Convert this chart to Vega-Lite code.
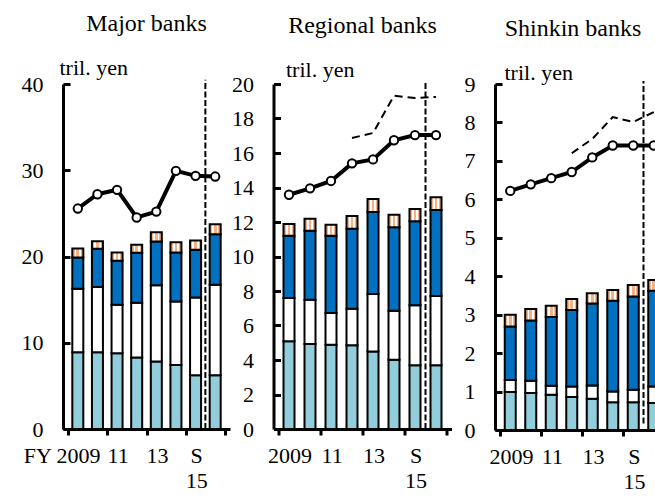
{
  "$schema": "https://vega.github.io/schema/vega-lite/v6.json",
  "padding": {"left": 21, "top": 12, "right": 0, "bottom": 0},
  "background": "white",
  "datasets": {
    "bars": [
      {"p": "M", "i": 0, "c": "a", "k": 1, "v": 8.9}, {"p": "M", "i": 0, "c": "b", "k": 2, "v": 7.36}, {"p": "M", "i": 0, "c": "c", "k": 3, "v": 3.63}, {"p": "M", "i": 0, "c": "d", "k": 4, "v": 1.04},
      {"p": "M", "i": 1, "c": "a", "k": 1, "v": 8.9}, {"p": "M", "i": 1, "c": "b", "k": 2, "v": 7.55}, {"p": "M", "i": 1, "c": "c", "k": 3, "v": 4.45}, {"p": "M", "i": 1, "c": "d", "k": 4, "v": 0.88},
      {"p": "M", "i": 2, "c": "a", "k": 1, "v": 8.77}, {"p": "M", "i": 2, "c": "b", "k": 2, "v": 5.63}, {"p": "M", "i": 2, "c": "c", "k": 3, "v": 5.1}, {"p": "M", "i": 2, "c": "d", "k": 4, "v": 0.97},
      {"p": "M", "i": 3, "c": "a", "k": 1, "v": 8.3}, {"p": "M", "i": 3, "c": "b", "k": 2, "v": 6.34}, {"p": "M", "i": 3, "c": "c", "k": 3, "v": 5.79}, {"p": "M", "i": 3, "c": "d", "k": 4, "v": 0.93},
      {"p": "M", "i": 4, "c": "a", "k": 1, "v": 7.84}, {"p": "M", "i": 4, "c": "b", "k": 2, "v": 8.84}, {"p": "M", "i": 4, "c": "c", "k": 3, "v": 5.06}, {"p": "M", "i": 4, "c": "d", "k": 4, "v": 1.06},
      {"p": "M", "i": 5, "c": "a", "k": 1, "v": 7.42}, {"p": "M", "i": 5, "c": "b", "k": 2, "v": 7.37}, {"p": "M", "i": 5, "c": "c", "k": 3, "v": 5.68}, {"p": "M", "i": 5, "c": "d", "k": 4, "v": 1.19},
      {"p": "M", "i": 6, "c": "a", "k": 1, "v": 6.22}, {"p": "M", "i": 6, "c": "b", "k": 2, "v": 9.03}, {"p": "M", "i": 6, "c": "c", "k": 3, "v": 5.53}, {"p": "M", "i": 6, "c": "d", "k": 4, "v": 1.08},
      {"p": "M", "i": 7, "c": "a", "k": 1, "v": 6.22}, {"p": "M", "i": 7, "c": "b", "k": 2, "v": 10.5}, {"p": "M", "i": 7, "c": "c", "k": 3, "v": 5.86}, {"p": "M", "i": 7, "c": "d", "k": 4, "v": 1.16},
      {"p": "R", "i": 0, "c": "a", "k": 1, "v": 5.08}, {"p": "R", "i": 0, "c": "b", "k": 2, "v": 2.51}, {"p": "R", "i": 0, "c": "c", "k": 3, "v": 3.61}, {"p": "R", "i": 0, "c": "d", "k": 4, "v": 0.68},
      {"p": "R", "i": 1, "c": "a", "k": 1, "v": 4.93}, {"p": "R", "i": 1, "c": "b", "k": 2, "v": 2.57}, {"p": "R", "i": 1, "c": "c", "k": 3, "v": 4.0}, {"p": "R", "i": 1, "c": "d", "k": 4, "v": 0.69},
      {"p": "R", "i": 2, "c": "a", "k": 1, "v": 4.89}, {"p": "R", "i": 2, "c": "b", "k": 2, "v": 1.83}, {"p": "R", "i": 2, "c": "c", "k": 3, "v": 4.48}, {"p": "R", "i": 2, "c": "d", "k": 4, "v": 0.64},
      {"p": "R", "i": 3, "c": "a", "k": 1, "v": 4.85}, {"p": "R", "i": 3, "c": "b", "k": 2, "v": 2.12}, {"p": "R", "i": 3, "c": "c", "k": 3, "v": 4.64}, {"p": "R", "i": 3, "c": "d", "k": 4, "v": 0.74},
      {"p": "R", "i": 4, "c": "a", "k": 1, "v": 4.5}, {"p": "R", "i": 4, "c": "b", "k": 2, "v": 3.33}, {"p": "R", "i": 4, "c": "c", "k": 3, "v": 4.75}, {"p": "R", "i": 4, "c": "d", "k": 4, "v": 0.75},
      {"p": "R", "i": 5, "c": "a", "k": 1, "v": 4.02}, {"p": "R", "i": 5, "c": "b", "k": 2, "v": 2.84}, {"p": "R", "i": 5, "c": "c", "k": 3, "v": 4.83}, {"p": "R", "i": 5, "c": "d", "k": 4, "v": 0.73},
      {"p": "R", "i": 6, "c": "a", "k": 1, "v": 3.69}, {"p": "R", "i": 6, "c": "b", "k": 2, "v": 3.48}, {"p": "R", "i": 6, "c": "c", "k": 3, "v": 4.87}, {"p": "R", "i": 6, "c": "d", "k": 4, "v": 0.71},
      {"p": "R", "i": 7, "c": "a", "k": 1, "v": 3.69}, {"p": "R", "i": 7, "c": "b", "k": 2, "v": 4.02}, {"p": "R", "i": 7, "c": "c", "k": 3, "v": 4.99}, {"p": "R", "i": 7, "c": "d", "k": 4, "v": 0.73},
      {"p": "S", "i": 0, "c": "a", "k": 1, "v": 0.99}, {"p": "S", "i": 0, "c": "b", "k": 2, "v": 0.31}, {"p": "S", "i": 0, "c": "c", "k": 3, "v": 1.39}, {"p": "S", "i": 0, "c": "d", "k": 4, "v": 0.31},
      {"p": "S", "i": 1, "c": "a", "k": 1, "v": 0.96}, {"p": "S", "i": 1, "c": "b", "k": 2, "v": 0.32}, {"p": "S", "i": 1, "c": "c", "k": 3, "v": 1.57}, {"p": "S", "i": 1, "c": "d", "k": 4, "v": 0.3},
      {"p": "S", "i": 2, "c": "a", "k": 1, "v": 0.92}, {"p": "S", "i": 2, "c": "b", "k": 2, "v": 0.23}, {"p": "S", "i": 2, "c": "c", "k": 3, "v": 1.79}, {"p": "S", "i": 2, "c": "d", "k": 4, "v": 0.29},
      {"p": "S", "i": 3, "c": "a", "k": 1, "v": 0.86}, {"p": "S", "i": 3, "c": "b", "k": 2, "v": 0.27}, {"p": "S", "i": 3, "c": "c", "k": 3, "v": 1.99}, {"p": "S", "i": 3, "c": "d", "k": 4, "v": 0.29},
      {"p": "S", "i": 4, "c": "a", "k": 1, "v": 0.81}, {"p": "S", "i": 4, "c": "b", "k": 2, "v": 0.35}, {"p": "S", "i": 4, "c": "c", "k": 3, "v": 2.13}, {"p": "S", "i": 4, "c": "d", "k": 4, "v": 0.27},
      {"p": "S", "i": 5, "c": "a", "k": 1, "v": 0.72}, {"p": "S", "i": 5, "c": "b", "k": 2, "v": 0.28}, {"p": "S", "i": 5, "c": "c", "k": 3, "v": 2.36}, {"p": "S", "i": 5, "c": "d", "k": 4, "v": 0.28},
      {"p": "S", "i": 6, "c": "a", "k": 1, "v": 0.72}, {"p": "S", "i": 6, "c": "b", "k": 2, "v": 0.33}, {"p": "S", "i": 6, "c": "c", "k": 3, "v": 2.42}, {"p": "S", "i": 6, "c": "d", "k": 4, "v": 0.3},
      {"p": "S", "i": 7, "c": "a", "k": 1, "v": 0.7}, {"p": "S", "i": 7, "c": "b", "k": 2, "v": 0.43}, {"p": "S", "i": 7, "c": "c", "k": 3, "v": 2.49}, {"p": "S", "i": 7, "c": "d", "k": 4, "v": 0.28}
    ],
    "lines": [
      {"p": "M", "s": "solid", "i": 0, "v": 25.56}, {"p": "M", "s": "solid", "i": 1, "v": 27.22}, {"p": "M", "s": "solid", "i": 2, "v": 27.73}, {"p": "M", "s": "solid", "i": 3, "v": 24.52},
      {"p": "M", "s": "solid", "i": 4, "v": 25.21}, {"p": "M", "s": "solid", "i": 5, "v": 29.93}, {"p": "M", "s": "solid", "i": 6, "v": 29.35}, {"p": "M", "s": "solid", "i": 7, "v": 29.27},
      {"p": "R", "s": "solid", "i": 0, "v": 13.58}, {"p": "R", "s": "solid", "i": 1, "v": 13.95}, {"p": "R", "s": "solid", "i": 2, "v": 14.38}, {"p": "R", "s": "solid", "i": 3, "v": 15.4},
      {"p": "R", "s": "solid", "i": 4, "v": 15.63}, {"p": "R", "s": "solid", "i": 5, "v": 16.74}, {"p": "R", "s": "solid", "i": 6, "v": 17.04}, {"p": "R", "s": "solid", "i": 7, "v": 17.04},
      {"p": "R", "s": "dashed", "i": 3, "v": 16.87}, {"p": "R", "s": "dashed", "i": 4, "v": 17.16}, {"p": "R", "s": "dashed", "i": 5, "v": 19.32}, {"p": "R", "s": "dashed", "i": 6, "v": 19.19}, {"p": "R", "s": "dashed", "i": 7, "v": 19.25},
      {"p": "S", "s": "solid", "i": 0, "v": 6.22}, {"p": "S", "s": "solid", "i": 1, "v": 6.39}, {"p": "S", "s": "solid", "i": 2, "v": 6.55}, {"p": "S", "s": "solid", "i": 3, "v": 6.71},
      {"p": "S", "s": "solid", "i": 4, "v": 7.09}, {"p": "S", "s": "solid", "i": 5, "v": 7.4}, {"p": "S", "s": "solid", "i": 6, "v": 7.4}, {"p": "S", "s": "solid", "i": 7, "v": 7.4},
      {"p": "S", "s": "dashed", "i": 3, "v": 7.2}, {"p": "S", "s": "dashed", "i": 4, "v": 7.57}, {"p": "S", "s": "dashed", "i": 5, "v": 8.14}, {"p": "S", "s": "dashed", "i": 6, "v": 8.01}, {"p": "S", "s": "dashed", "i": 7, "v": 8.27}
    ],
    "dividers": [
      {"p": "M", "x": 6.5, "y0": 0, "y1": 40.5},
      {"p": "R", "x": 6.5, "y0": 0, "y1": 20.17},
      {"p": "S", "x": 6.5, "y0": 0.17, "y1": 9.08}
    ]
  },
  "bounds": "flush",
  "spacing": 43.5,
  "hconcat": [
    {
      "width": 167,
      "height": 345,
      "title": {"text": "Major banks"},
      "layer": [
        {
          "data": {"name": "bars"},
          "transform": [{"filter": "datum.p === 'M'"}],
          "mark": {"type": "bar", "size": 11, "stroke": "black", "strokeWidth": 2},
          "encoding": {
            "x": {"field": "i", "type": "quantitative", "scale": {"domain": [-0.5, 7.5], "nice": false, "zero": false},
              "axis": {"values": [-0.5, 1.5, 3.5, 5.5, 7.5], "title": null, "labelOverlap": false,
                "labelExpr": "datum.value == -0.5 ? 'FY 2009' : datum.value == 1.5 ? '11' : datum.value == 3.5 ? '13' : datum.value == 5.5 ? ['S', '15'] : ''",
                "labelOffset": {"condition": {"test": "datum.value == -0.5", "value": -6.3}, "value": 10.44}}},
            "y": {"field": "v", "type": "quantitative", "stack": "zero", "scale": {"domain": [0, 40], "nice": false},
              "axis": {"values": [0, 10, 20, 30, 40], "labelOverlap": false, "title": "tril. yen", "titleX": -4, "titleY": -10}},
            "order": {"field": "k", "type": "quantitative"},
            "fill": {"field": "c", "type": "nominal", "legend": null,
              "scale": {"domain": ["a", "b", "c", "d"], "range": ["#92CDDC", "#FFFFFF", "#0070C0", "#F4B183"]},
              "condition": {"test": "datum.c === 'd'", "value": {"gradient": "linear", "x1": 0, "y1": 0, "x2": 1, "y2": 0,
                "stops": [{"offset": 0, "color": "#F4B183"}, {"offset": 0.22, "color": "#F4B183"}, {"offset": 0.22, "color": "#FFFFFF"}, {"offset": 0.38, "color": "#FFFFFF"}, {"offset": 0.38, "color": "#F4B183"}, {"offset": 0.62, "color": "#F4B183"}, {"offset": 0.62, "color": "#FFFFFF"}, {"offset": 0.78, "color": "#FFFFFF"}, {"offset": 0.78, "color": "#F4B183"}, {"offset": 1, "color": "#F4B183"}]}}}
          }
        },
        {
          "data": {"name": "dividers"},
          "transform": [{"filter": "datum.p === 'M'"}],
          "mark": {"type": "rule", "color": "black", "strokeWidth": 2, "strokeDash": [6, 2.5]},
          "encoding": {"x": {"field": "x", "type": "quantitative"}, "y": {"field": "y0", "type": "quantitative", "axis": {"values": [0, 10, 20, 30, 40], "labelOverlap": false, "title": "tril. yen", "titleX": -4, "titleY": -10}}, "y2": {"field": "y1"}}
        },
        {
          "data": {"name": "lines"},
          "transform": [{"filter": "datum.p === 'M' && datum.s === 'solid'"}],
          "mark": {"type": "line", "color": "black", "strokeWidth": 4},
          "encoding": {"x": {"field": "i", "type": "quantitative"}, "y": {"field": "v", "type": "quantitative", "axis": {"values": [0, 10, 20, 30, 40], "labelOverlap": false, "title": "tril. yen", "titleX": -4, "titleY": -10}}}
        },
        {
          "data": {"name": "lines"},
          "transform": [{"filter": "datum.p === 'M' && datum.s === 'solid'"}],
          "mark": {"type": "point", "shape": "circle", "filled": true, "fill": "white", "stroke": "black", "strokeWidth": 2, "size": 70, "opacity": 1},
          "encoding": {"x": {"field": "i", "type": "quantitative"}, "y": {"field": "v", "type": "quantitative", "axis": {"values": [0, 10, 20, 30, 40], "labelOverlap": false, "title": "tril. yen", "titleX": -4, "titleY": -10}}}
        }
      ]
    },
    {
      "width": 178,
      "height": 345,
      "title": {"text": "Regional banks"},
      "layer": [
        {
          "data": {"name": "bars"},
          "transform": [{"filter": "datum.p === 'R'"}],
          "mark": {"type": "bar", "size": 11, "stroke": "black", "strokeWidth": 2},
          "encoding": {
            "x": {"field": "i", "type": "quantitative", "scale": {"domain": [-0.5, 7.5], "nice": false, "zero": false},
              "axis": {"values": [-0.5, 1.5, 3.5, 5.5, 7.5], "title": null, "labelOverlap": false,
                "labelExpr": "datum.value == -0.5 ? '2009' : datum.value == 1.5 ? '11' : datum.value == 3.5 ? '13' : datum.value == 5.5 ? ['S', '15'] : ''",
                "labelOffset": 11.1}},
            "y": {"field": "v", "type": "quantitative", "stack": "zero", "scale": {"domain": [0, 20], "nice": false},
              "axis": {"values": [0, 2, 4, 6, 8, 10, 12, 14, 16, 18, 20], "labelOverlap": false, "title": "tril. yen", "titleX": 12, "titleY": -8}},
            "order": {"field": "k", "type": "quantitative"},
            "fill": {"field": "c", "type": "nominal", "legend": null,
              "scale": {"domain": ["a", "b", "c", "d"], "range": ["#92CDDC", "#FFFFFF", "#0070C0", "#F4B183"]},
              "condition": {"test": "datum.c === 'd'", "value": {"gradient": "linear", "x1": 0, "y1": 0, "x2": 1, "y2": 0,
                "stops": [{"offset": 0, "color": "#F4B183"}, {"offset": 0.22, "color": "#F4B183"}, {"offset": 0.22, "color": "#FFFFFF"}, {"offset": 0.38, "color": "#FFFFFF"}, {"offset": 0.38, "color": "#F4B183"}, {"offset": 0.62, "color": "#F4B183"}, {"offset": 0.62, "color": "#FFFFFF"}, {"offset": 0.78, "color": "#FFFFFF"}, {"offset": 0.78, "color": "#F4B183"}, {"offset": 1, "color": "#F4B183"}]}}}
          }
        },
        {
          "data": {"name": "dividers"},
          "transform": [{"filter": "datum.p === 'R'"}],
          "mark": {"type": "rule", "color": "black", "strokeWidth": 2, "strokeDash": [6, 2.5]},
          "encoding": {"x": {"field": "x", "type": "quantitative"}, "y": {"field": "y0", "type": "quantitative", "axis": {"values": [0, 2, 4, 6, 8, 10, 12, 14, 16, 18, 20], "labelOverlap": false, "title": "tril. yen", "titleX": 12, "titleY": -8}}, "y2": {"field": "y1"}}
        },
        {
          "data": {"name": "lines"},
          "transform": [{"filter": "datum.p === 'R' && datum.s === 'dashed'"}],
          "mark": {"type": "line", "color": "black", "strokeWidth": 2, "strokeDash": [8, 5]},
          "encoding": {"x": {"field": "i", "type": "quantitative"}, "y": {"field": "v", "type": "quantitative", "axis": {"values": [0, 2, 4, 6, 8, 10, 12, 14, 16, 18, 20], "labelOverlap": false, "title": "tril. yen", "titleX": 12, "titleY": -8}}}
        },
        {
          "data": {"name": "lines"},
          "transform": [{"filter": "datum.p === 'R' && datum.s === 'solid'"}],
          "mark": {"type": "line", "color": "black", "strokeWidth": 4},
          "encoding": {"x": {"field": "i", "type": "quantitative"}, "y": {"field": "v", "type": "quantitative", "axis": {"values": [0, 2, 4, 6, 8, 10, 12, 14, 16, 18, 20], "labelOverlap": false, "title": "tril. yen", "titleX": 12, "titleY": -8}}}
        },
        {
          "data": {"name": "lines"},
          "transform": [{"filter": "datum.p === 'R' && datum.s === 'solid'"}],
          "mark": {"type": "point", "shape": "circle", "filled": true, "fill": "white", "stroke": "black", "strokeWidth": 2, "size": 70, "opacity": 1},
          "encoding": {"x": {"field": "i", "type": "quantitative"}, "y": {"field": "v", "type": "quantitative", "axis": {"values": [0, 2, 4, 6, 8, 10, 12, 14, 16, 18, 20], "labelOverlap": false, "title": "tril. yen", "titleX": 12, "titleY": -8}}}
        }
      ]
    },
    {
      "width": 174,
      "height": 346,
      "title": {"text": "Shinkin banks", "dx": -9},
      "layer": [
        {
          "data": {"name": "bars"},
          "transform": [{"filter": "datum.p === 'S'"}],
          "mark": {"type": "bar", "size": 11, "stroke": "black", "strokeWidth": 2},
          "encoding": {
            "x": {"field": "i", "type": "quantitative", "scale": {"domain": [-0.5, 7.5], "nice": false, "zero": false},
              "axis": {"values": [-0.5, 1.5, 3.5, 5.5, 7.5], "title": null, "labelOverlap": false,
                "labelExpr": "datum.value == -0.5 ? '2009' : datum.value == 1.5 ? '11' : datum.value == 3.5 ? '13' : datum.value == 5.5 ? ['S', '15'] : ''",
                "labelOffset": 10.9}},
            "y": {"field": "v", "type": "quantitative", "stack": "zero", "scale": {"domain": [0, 9], "nice": false},
              "axis": {"values": [0, 1, 2, 3, 4, 5, 6, 7, 8, 9], "labelOverlap": false, "title": "tril. yen", "titleX": 9, "titleY": -5}},
            "order": {"field": "k", "type": "quantitative"},
            "fill": {"field": "c", "type": "nominal", "legend": null,
              "scale": {"domain": ["a", "b", "c", "d"], "range": ["#92CDDC", "#FFFFFF", "#0070C0", "#F4B183"]},
              "condition": {"test": "datum.c === 'd'", "value": {"gradient": "linear", "x1": 0, "y1": 0, "x2": 1, "y2": 0,
                "stops": [{"offset": 0, "color": "#F4B183"}, {"offset": 0.22, "color": "#F4B183"}, {"offset": 0.22, "color": "#FFFFFF"}, {"offset": 0.38, "color": "#FFFFFF"}, {"offset": 0.38, "color": "#F4B183"}, {"offset": 0.62, "color": "#F4B183"}, {"offset": 0.62, "color": "#FFFFFF"}, {"offset": 0.78, "color": "#FFFFFF"}, {"offset": 0.78, "color": "#F4B183"}, {"offset": 1, "color": "#F4B183"}]}}}
          }
        },
        {
          "data": {"name": "dividers"},
          "transform": [{"filter": "datum.p === 'S'"}],
          "mark": {"type": "rule", "color": "black", "strokeWidth": 2, "strokeDash": [6, 2.5]},
          "encoding": {"x": {"field": "x", "type": "quantitative"}, "y": {"field": "y0", "type": "quantitative", "axis": {"values": [0, 1, 2, 3, 4, 5, 6, 7, 8, 9], "labelOverlap": false, "title": "tril. yen", "titleX": 9, "titleY": -5}}, "y2": {"field": "y1"}}
        },
        {
          "data": {"name": "lines"},
          "transform": [{"filter": "datum.p === 'S' && datum.s === 'dashed'"}],
          "mark": {"type": "line", "color": "black", "strokeWidth": 2, "strokeDash": [8, 5]},
          "encoding": {"x": {"field": "i", "type": "quantitative"}, "y": {"field": "v", "type": "quantitative", "axis": {"values": [0, 1, 2, 3, 4, 5, 6, 7, 8, 9], "labelOverlap": false, "title": "tril. yen", "titleX": 9, "titleY": -5}}}
        },
        {
          "data": {"name": "lines"},
          "transform": [{"filter": "datum.p === 'S' && datum.s === 'solid'"}],
          "mark": {"type": "line", "color": "black", "strokeWidth": 4},
          "encoding": {"x": {"field": "i", "type": "quantitative"}, "y": {"field": "v", "type": "quantitative", "axis": {"values": [0, 1, 2, 3, 4, 5, 6, 7, 8, 9], "labelOverlap": false, "title": "tril. yen", "titleX": 9, "titleY": -5}}}
        },
        {
          "data": {"name": "lines"},
          "transform": [{"filter": "datum.p === 'S' && datum.s === 'solid'"}],
          "mark": {"type": "point", "shape": "circle", "filled": true, "fill": "white", "stroke": "black", "strokeWidth": 2, "size": 70, "opacity": 1},
          "encoding": {"x": {"field": "i", "type": "quantitative"}, "y": {"field": "v", "type": "quantitative", "axis": {"values": [0, 1, 2, 3, 4, 5, 6, 7, 8, 9], "labelOverlap": false, "title": "tril. yen", "titleX": 9, "titleY": -5}}}
        }
      ]
    }
  ],
  "config": {
    "font": "Liberation Serif",
    "view": {"stroke": null},
    "title": {"font": "Liberation Serif", "fontSize": 24, "fontWeight": "normal", "color": "black", "anchor": "middle", "frame": "group", "offset": 20},
    "axis": {
      "labelFont": "Liberation Serif", "labelFontSize": 22, "labelColor": "black",
      "titleFont": "Liberation Serif", "titleFontSize": 22, "titleFontWeight": "normal", "titleColor": "black",
      "domainColor": "black", "domainWidth": 3, "tickColor": "black", "tickWidth": 3, "grid": false
    },
    "axisX": {"tickSize": 6, "labelPadding": 10, "labelFlush": false, "labelOverlap": false, "labelAngle": 0, "labelAlign": "center", "labelBaseline": "top", "labelLineHeight": 25},
    "axisY": {"tickSize": -7, "labelPadding": 27, "labelFlush": false, "labelOverlap": false, "titleAngle": 0, "titleAlign": "left", "titleBaseline": "alphabetic", "titleAnchor": null}
  }
}
